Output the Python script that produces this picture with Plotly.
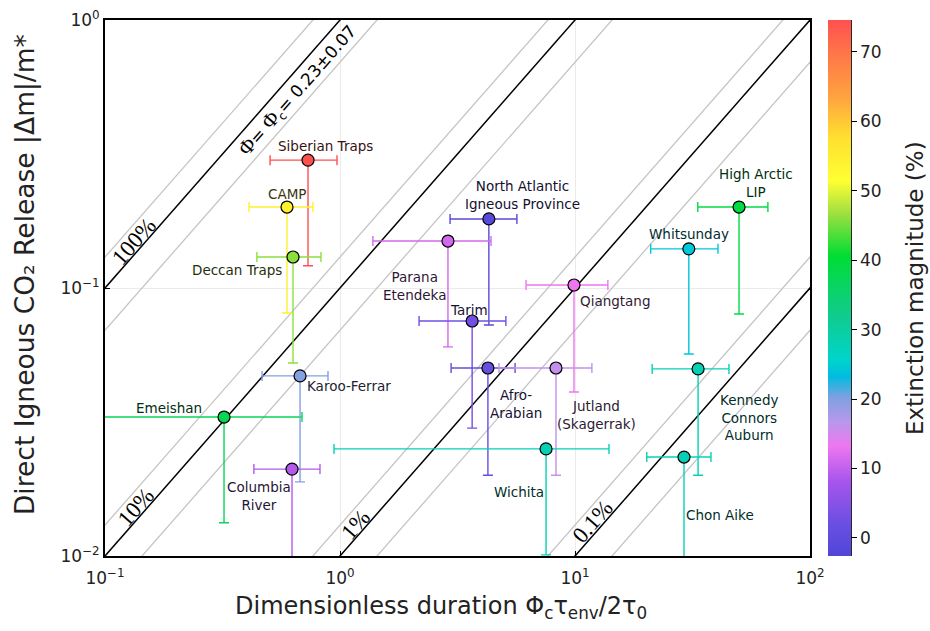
import numpy as np
import plotly.graph_objects as go

# ---------------------------------------------------------------- data
names = [
    "Siberian Traps", "CAMP", "Deccan Traps", "North Atlantic<br>Igneous Province",
    "Parana<br>Etendeka", "Tarim", "Qiangtang", "Afro-<br>Arabian",
    "Jutland<br>(Skagerrak)", "Wichita", "Emeishan", "Karoo-Ferrar",
    "Columbia<br>River", "High Arctic<br>LIP", "Whitsunday", "Kennedy<br>Connors<br>Auburn",
    "Chon Aike",
]
# dimensionless duration (x) with lower / upper bounds
duration = [0.731, 0.595, 0.631, 4.30, 2.88, 3.65, 9.90, 4.26, 8.30, 7.53,
            0.321, 0.676, 0.625, 49.9, 30.5, 33.4, 29.1]
duration_low = [0.504, 0.410, 0.443, 2.94, 1.38, 2.17, 6.19, 2.97, 4.75, 0.943,
                0.080, 0.466, 0.430, 33.3, 21.0, 21.3, 20.2]
duration_high = [0.971, 0.767, 0.830, 5.66, 4.39, 5.08, 13.8, 5.56, 11.8, 13.95,
                 0.689, 0.889, 0.822, 66.2, 40.6, 45.2, 37.9]
# direct igneous CO2 release (y) and its lower bound
release = [0.300, 0.2005, 0.1305, 0.181, 0.1497, 0.0753, 0.1026, 0.0503, 0.0503, 0.0251,
           0.0330, 0.0470, 0.0211, 0.2005, 0.140, 0.0499, 0.0234]
release_low = [0.121, 0.0807, 0.0525, 0.0728, 0.0603, 0.0300, 0.0409, 0.0200, 0.0200, 0.0101,
               0.0133, 0.0189, 0.0080, 0.0800, 0.0567, 0.0200, 0.0080]
# extinction magnitude (%)
extinction = [74.6, 54.5, 46.0, -1.0, 11.3, 2.8, 13.2, 1.3, 16.0, 28.0,
              37.5, 20.0, 9.0, 39.0, 24.4, 28.0, 28.0]

# reference lines: fraction of carbon released, Phi_c = 0.23 +/- 0.07
line_fractions = [1.0, 0.1, 0.01, 0.001]
line_labels = ["100%", "10%", "1%", "0.1%"]
phi_c, phi_err = 0.23, 0.07

x_ticks = [0.1, 1, 10, 100]
x_ticktext = ["10<sup>−1</sup>", "10<sup>0</sup>", "10<sup>1</sup>", "10<sup>2</sup>"]
y_ticks = [0.01, 0.1, 1]
y_ticktext = ["10<sup>−2</sup>", "10<sup>−1</sup>", "10<sup>0</sup>"]
cbar_ticks = [0, 10, 20, 30, 40, 50, 60, 70]

# ---------------------------------------------------------------- style
cmin, cmax = -2.6, 74.6
colorscale = [
    [0.00, "#4f46d8"], [0.06, "#6a4fe2"], [0.14, "#a855ec"], [0.205, "#ee77f0"],
    [0.25, "#b898ea"], [0.295, "#80a0e0"], [0.335, "#00bce0"], [0.365, "#00d4cc"],
    [0.45, "#10cc8c"], [0.56, "#00dd33"], [0.64, "#a0e040"], [0.70, "#ffff33"],
    [0.78, "#ffe030"], [0.86, "#ffa040"], [0.93, "#ff7a48"], [1.00, "#ff5050"],
]


def _rgb(h):
    h = h.lstrip("#")
    return np.array([int(h[i:i + 2], 16) for i in (0, 2, 4)], dtype=float)


def scale_color(v, shade=1.0):
    t = min(max((v - cmin) / (cmax - cmin), 0.0), 1.0)
    for (t0, c0), (t1, c1) in zip(colorscale[:-1], colorscale[1:]):
        if t0 <= t <= t1:
            f = 0.0 if t1 == t0 else (t - t0) / (t1 - t0)
            rgb = (_rgb(c0) * (1 - f) + _rgb(c1) * f) * shade
            return "rgb(%d,%d,%d)" % tuple(np.round(rgb).astype(int))
    return colorscale[-1][1]


# label offsets (pixels) relative to each marker
label_shift = {
    "Siberian Traps": (17, 14), "CAMP": (0, 13), "Deccan Traps": (-56, -13),
    "North Atlantic<br>Igneous Province": (34, 24), "Parana<br>Etendeka": (-33, -45),
    "Tarim": (-3, 11), "Qiangtang": (41, -16), "Afro-<br>Arabian": (28, -36),
    "Jutland<br>(Skagerrak)": (41, -47), "Wichita": (-27, -43), "Emeishan": (-55, 9),
    "Karoo-Ferrar": (49, -10), "Columbia<br>River": (-33, -27),
    "High Arctic<br>LIP": (17, 24), "Whitsunday": (0, 15),
    "Kennedy<br>Connors<br>Auburn": (51, -49), "Chon Aike": (36, -58),
}

fig = go.Figure()

# diagonal reference lines (black) with Phi_c uncertainty band (grey)
xl = np.array([0.05, 200.0])
for frac in line_fractions:
    for k in ((phi_c + phi_err) / phi_c, (phi_c - phi_err) / phi_c):
        fig.add_trace(go.Scatter(x=xl, y=frac * k * xl, mode="lines",
                                 line=dict(color="#c4c4c4", width=1.3),
                                 hoverinfo="skip", showlegend=False))
    fig.add_trace(go.Scatter(x=xl, y=frac * xl, mode="lines",
                             line=dict(color="black", width=1.5),
                             hoverinfo="skip", showlegend=False))

# data points with error bars, coloured by extinction magnitude
for i, name in enumerate(names):
    c = scale_color(extinction[i])
    fig.add_trace(go.Scatter(
        x=[duration[i]], y=[release[i]], mode="markers",
        marker=dict(size=12, color=[extinction[i]], colorscale=colorscale,
                    cmin=cmin, cmax=cmax, line=dict(color="black", width=1.2),
                    showscale=(i == 0),
                    colorbar=dict(
                        thickness=23, len=1, lenmode="fraction", x=1.0255, xanchor="left",
                        xpad=0, ypad=0, y=0.5, yanchor="middle", outlinewidth=0,
                        tickvals=cbar_ticks, ticks="outside", ticklen=6,
                        tickcolor="black", tickwidth=1.2,
                        tickfont=dict(family="DejaVu Sans", size=17, color="#222"),
                    )),
        error_x=dict(type="data", symmetric=False,
                     array=[duration_high[i] - duration[i]],
                     arrayminus=[duration[i] - duration_low[i]],
                     color=c, thickness=1.4, width=5),
        error_y=dict(type="data", symmetric=False, array=[0],
                     arrayminus=[release[i] - release_low[i]],
                     color=c, thickness=1.4, width=5),
        hoverinfo="text", text=[name.replace("<br>", " ")], showlegend=False,
    ))
    dx, dy = label_shift[name]
    fig.add_annotation(x=np.log10(duration[i]), y=np.log10(release[i]), text=name,
                       showarrow=False, xshift=dx, yshift=dy,
                       font=dict(family="DejaVu Sans", size=13.5,
                                 color=scale_color(extinction[i], 0.22)))

# rotated labels along the diagonal lines
angle = -np.degrees(np.arctan2(536 / 2, 705 / 3))
nx, ny = np.cos(np.radians(-angle)), np.sin(np.radians(-angle))
line_label_x = [-0.848, -0.841, 0.096, 1.105]
for frac, lab, lx in zip(line_fractions, line_labels, line_label_x):
    d = 9
    fig.add_annotation(x=lx, y=lx + np.log10(frac), text=lab, showarrow=False,
                       textangle=angle, xshift=-d * ny, yshift=d * nx,
                       font=dict(family="Liberation Serif", size=23, color="black"))
fig.add_annotation(x=-0.225, y=-0.225,
                   text="<span style='font-family:Liberation Serif;font-size:21px'>Φ</span>= "
                        "<span style='font-family:Liberation Serif;font-size:21px'>Φ</span>"
                        "<sub>c</sub>= 0.23±0.07",
                   showarrow=False, textangle=angle, xshift=14 * ny, yshift=-14 * nx,
                   font=dict(family="DejaVu Sans", size=17, color="black"))

# axis and colour-bar titles
fig.add_annotation(xref="paper", yref="paper", x=0.4766, y=-0.097,
                   xanchor="center", yanchor="middle", showarrow=False,
                   text="Dimensionless duration Φ<sub>c</sub>τ<sub>env</sub>/2τ<sub>0</sub>",
                   font=dict(family="DejaVu Sans", size=24, color="#222"))
fig.add_annotation(xref="paper", yref="paper", x=-0.1135, y=0.526,
                   xanchor="center", yanchor="middle", showarrow=False,
                   textangle=-90, text="Direct Igneous CO₂ Release |Δm|/m*",
                   font=dict(family="DejaVu Sans", size=26.5, color="#222"))
fig.add_annotation(xref="paper", yref="paper", x=1.149, y=0.5,
                   xanchor="center", yanchor="middle", showarrow=False,
                   textangle=-90, text="Extinction magnitude (%)",
                   font=dict(family="DejaVu Sans", size=23, color="#222"))

# right-hand edge of the colour bar
fig.add_shape(type="line", xref="paper", yref="paper", x0=1.0585, x1=1.0585, y0=0, y1=1,
              line=dict(color="black", width=1.2))

axis_common = dict(
    type="log", showgrid=True, gridcolor="#ebebeb", gridwidth=1,
    showline=True, mirror=True, linecolor="black", linewidth=1.8,
    ticks="inside", ticklen=5, tickcolor="black", zeroline=False,
    tickfont=dict(family="DejaVu Sans", size=17, color="#222"),
)
fig.update_xaxes(range=[-1, 2], tickvals=x_ticks, ticktext=x_ticktext, ticklabelstandoff=6,
                 **axis_common)
fig.update_yaxes(range=[-2, 0], tickvals=y_ticks, ticktext=y_ticktext, **axis_common)

fig.update_layout(
    width=930, height=631,
    margin=dict(l=105, r=120, t=20, b=75, autoexpand=False),
    plot_bgcolor="white", paper_bgcolor="white",
    showlegend=False,
)

fig.write_html("out.html")
